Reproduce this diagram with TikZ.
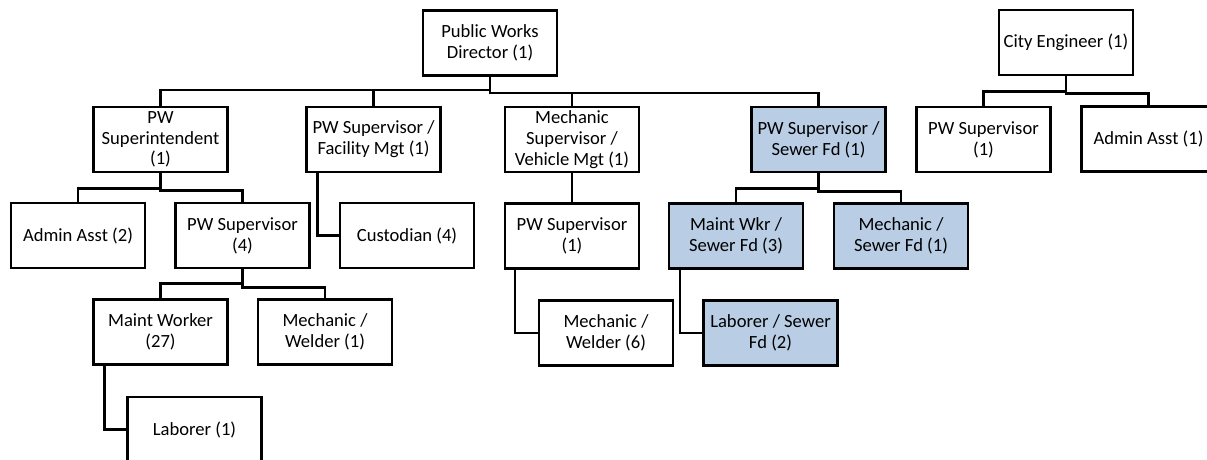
\documentclass[tikz,border=0pt]{standalone}
\usepackage{fontspec}
\setmainfont{Carlito}
\usetikzlibrary{calc}
\definecolor{sewerblue}{HTML}{B9CDE5}
\begin{document}
\begin{tikzpicture}[x=1pt,y=-1pt,
  box/.style={draw=black,line width=2.5pt,fill=white,minimum width=134pt,minimum height=65pt,
    inner sep=1pt,align=center,font=\fontsize{18.6}{20.8}\selectfont},
  sewer/.style={box,fill=sewerblue},
  conn/.style={line width=2.5pt,line join=miter}]
\useasboundingbox (0,0) rectangle (1207,460);
\clip (0,0) rectangle (1207,460);
\fill[white] (0,0) rectangle (1207,460);
% nodes
\node[box] (dir) at (490,43) {Public Works\\Director (1)};
\node[box] (ce) at (1066,42.5) {City Engineer (1)};
\node[box] (sup) at (160.5,139.5) {PW\\Superintendent\\(1)};
\node[box] (fac) at (373.5,139.5) {PW Supervisor /\\Facility Mgt (1)};
\node[box] (mech) at (572,139.5) {Mechanic\\Supervisor /\\Vehicle Mgt (1)};
\node[sewer] (sew) at (818.5,139.5) {PW Supervisor /\\Sewer Fd (1)};
\node[box] (ce1) at (983.5,139.5) {PW Supervisor\\(1)};
\node[box] (ce2) at (1148.5,139) {Admin Asst (1)};
\node[box] (adm2) at (78,235.5) {Admin Asst (2)};
\node[box] (pw4) at (242.5,235.5) {PW Supervisor\\(4)};
\node[box] (cus) at (407,235.5) {Custodian (4)};
\node[box] (pw1) at (572,236) {PW Supervisor\\(1)};
\node[sewer] (mwk) at (736,236) {Maint Wkr /\\Sewer Fd (3)};
\node[sewer] (msf) at (901,236) {Mechanic /\\Sewer Fd (1)};
\node[box] (mw) at (160.5,332) {Maint Worker\\(27)};
\node[box] (mwd) at (325,332) {Mechanic /\\Welder (1)};
\node[box] (mw6) at (606,333) {Mechanic /\\Welder (6)};
\node[sewer] (lsf) at (770.5,333) {Laborer / Sewer\\Fd (2)};
\node[box] (lab) at (194.5,429.5) {Laborer (1)};
% connectors
\draw[conn] (dir.south) -- ++(0,13) -| (sup.north);
\draw[conn] (dir.south) -- ++(0,13) -| (fac.north);
\draw[conn] (dir.south) -- ++(0,16) -| (mech.north);
\draw[conn] (dir.south) -- ++(0,16) -| (sew.north);
\draw[conn] (ce.south) -- ++(0,15) -| (ce1.north);
\draw[conn] (ce.south) -- ++(0,17) -| (ce2.north);
\draw[conn] (sup.south) -- ++(0,15) -| (adm2.north);
\draw[conn] (sup.south) -- ++(0,17) -| (pw4.north);
\draw[conn] ([xshift=12pt]fac.south west) |- (cus.west);
\draw[conn] (mech.south) -- (pw1.north);
\draw[conn] (sew.south) -- ++(0,15) -| (mwk.north);
\draw[conn] (sew.south) -- ++(0,18) -| (msf.north);
\draw[conn] (pw4.south) -- ++(0,14) -| (mw.north);
\draw[conn] (pw4.south) -- ++(0,18) -| (mwd.north);
\draw[conn] ([xshift=12pt]mw.south west) |- (lab.west);
\draw[conn] ([xshift=11pt]pw1.south west) |- (mw6.west);
\draw[conn] ([xshift=12pt]mwk.south west) |- (lsf.west);
\end{tikzpicture}
\end{document}
